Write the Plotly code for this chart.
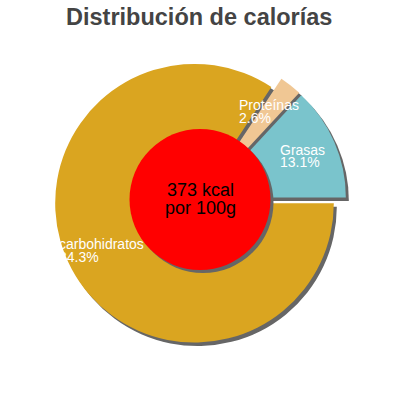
#!/usr/bin/env python3
"""
Distribución de calorías - donut style pie with a red centre badge
"""

import plotly.graph_objects as go

# Chart data
labels = ["carbohidratos", "Proteínas", "Grasas"]
values = [84.3, 2.6, 13.1]
energy_kcal = 373
energy_unit = "por 100g"
title_text = "Distribución de calorías"

# Styling
slice_colors = ["#DAA520", "#F0C794", "#7AC4CC"]
shadow_color = "#666666"
W, H = 400, 400
FONT = "Liberation Sans, Arial, sans-serif"

# pie box in pixels (centre + half size), shadow offset
PIE_CX, PIE_CY, PIE_HALF = 200.4, 200.1, 146.0
PULL = 0.048
SH_DX, SH_DY = 3, 3.5

# label placement (left x, cap-centre y of first line) in pixels
label_pos = [(57, 244), (237, 105.5), (278, 149.5)]
LINE_GAP = 12.5


def px_x(x):
    return x / W


def px_y(y):
    return 1 - y / H


def pie_domain(dx=0, dy=0):
    return dict(
        x=[px_x(PIE_CX - PIE_HALF + dx), px_x(PIE_CX + PIE_HALF + dx)],
        y=[px_y(PIE_CY + PIE_HALF + dy), px_y(PIE_CY - PIE_HALF + dy)],
    )


def create_figure():
    fig = go.Figure()

    # shadow pie first so it sits behind
    fig.add_trace(go.Pie(
        labels=labels, values=values, sort=False, direction="clockwise",
        rotation=90, pull=[PULL] * len(values),
        marker=dict(colors=[shadow_color] * len(values), line=dict(width=0)),
        textinfo="none", hoverinfo="skip", showlegend=False,
        domain=pie_domain(SH_DX, SH_DY),
    ))

    fig.add_trace(go.Pie(
        labels=labels, values=values, sort=False, direction="clockwise",
        rotation=90, pull=[PULL] * len(values),
        marker=dict(colors=slice_colors, line=dict(width=0)),
        textinfo="none", hovertemplate="%{label}: %{value}%<extra></extra>",
        showlegend=False, domain=pie_domain(),
    ))

    # red centre circle with its shadow
    cx, cy, r = 200, 199.5, 70.5
    for dx, dy, col in [(3, 3, shadow_color), (0, 0, "#FF0000")]:
        fig.add_shape(
            type="circle", xref="paper", yref="paper", layer="above",
            x0=px_x(cx - r + dx), x1=px_x(cx + r + dx),
            y0=px_y(cy + r + dy), y1=px_y(cy - r + dy),
            fillcolor=col, line=dict(width=0),
        )

    # centre text
    for txt, y in [(f"{energy_kcal} kcal", 189.5), (energy_unit, 208)]:
        fig.add_annotation(
            x=px_x(cx), y=px_y(y), xref="paper", yref="paper",
            text=txt, showarrow=False, xanchor="center", yanchor="middle",
            font=dict(family=FONT, size=18, color="#000000"),
        )

    # slice labels
    for name, val, (lx, ly) in zip(labels, values, label_pos):
        for i, txt in enumerate([name, f"{val}%"]):
            fig.add_annotation(
                x=px_x(lx), y=px_y(ly + i * LINE_GAP), xref="paper", yref="paper",
                text=txt, showarrow=False, xanchor="left", yanchor="middle",
                font=dict(family=FONT, size=14, color="#FFFFFF"),
            )

    # title
    fig.add_annotation(
        x=px_x(198.5), y=px_y(17), xref="paper", yref="paper",
        text=f"<b>{title_text}</b>", showarrow=False,
        xanchor="center", yanchor="middle",
        font=dict(family=FONT, size=23.5, color="#444444"),
    )

    fig.update_layout(
        width=W, height=H,
        margin=dict(l=0, r=0, t=0, b=0),
        paper_bgcolor="white", plot_bgcolor="white",
    )
    return fig


fig = create_figure()
# drop the default page margin so the figure sits at the window's corner
fig.write_html(
    "out.html",
    config={"displayModeBar": False},
    post_script="document.body.style.margin = '0';",
)
